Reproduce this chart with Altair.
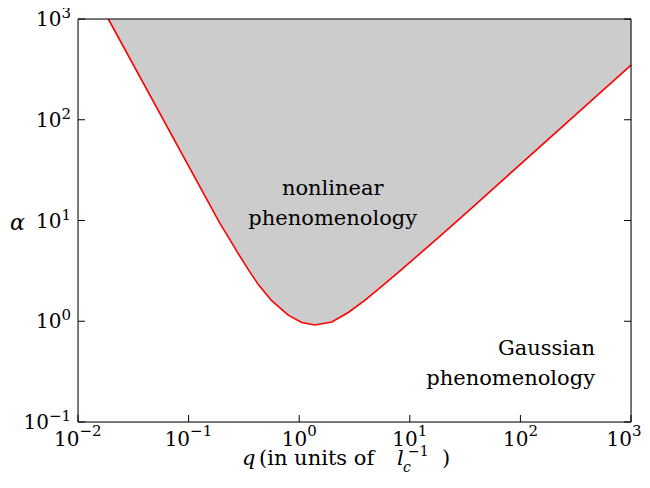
import altair as alt
import pandas as pd

# ---- data ----
q_vals = [0.0188, 0.192, 0.229, 0.281, 0.347, 0.427, 0.564, 0.796, 1.054, 1.39,
          1.97, 2.78, 3.94, 5.57, 7.87, 11.9, 18.1, 27.5, 37.5, 1000]
alpha_vals = [1000, 9.38, 6.85, 4.70, 3.25, 2.31, 1.60, 1.148, 0.973, 0.918,
              0.982, 1.222, 1.622, 2.213, 3.048, 4.529, 6.761, 10.14, 13.74, 349]

x_ticks = [0.01, 0.1, 1, 10, 100, 1000]
x_tick_exps = ["\u22122", "\u22121", "0", "1", "2", "3"]
y_ticks = [0.1, 1, 10, 100, 1000]
y_tick_exps = ["\u22121", "0", "1", "2", "3"]

center_text = ["nonlinear", "phenomenology"]
center_q = [2.01, 2.01]
center_alpha = [17.9, 9.0]

right_text = ["Gaussian", "phenomenology"]
right_q = [473, 473]
right_alpha = [0.462, 0.233]

W, H = 553, 403
FONT = "DejaVu Serif"

curve = pd.DataFrame({"q": q_vals, "alpha": alpha_vals})
xt = pd.DataFrame({"v": x_ticks, "e": x_tick_exps})
yt = pd.DataFrame({"v": y_ticks, "e": y_tick_exps})
cdf = pd.DataFrame({"t": center_text, "q": center_q, "a": center_alpha})
rdf = pd.DataFrame({"t": right_text, "q": right_q, "a": right_alpha})

NEG = "indexof(datum.e, '\u2212') == 0"
POS = "indexof(datum.e, '\u2212') < 0 && datum.v < 999"
LAST = "datum.v > 999"
POS_Y = "indexof(datum.e, '\u2212') < 0"

xs = alt.Scale(type="log", domain=[0.01, 1000])
ys = alt.Scale(type="log", domain=[0.1, 1000])

# identical axis definitions on every layer (labels are drawn as text marks)
x_axis = alt.Axis(values=x_ticks, labels=False, title="", domain=False, ticks=False,
                  grid=False)
y_axis = alt.Axis(values=y_ticks, labels=False, title="\u03b1", titleAngle=0, titleX=-61,
                  titleY=203, titleAlign="center", titleBaseline="middle",
                  titleFontStyle="italic", titleFontSize=22, titleFontWeight="normal",
                  titleColor="black", titleFont=FONT, domain=False, ticks=False, grid=False)


def X(f):
    return alt.X(f, scale=xs, axis=x_axis)


def Y(f):
    return alt.Y(f, scale=ys, axis=y_axis)


def XD(v):
    return alt.XDatum(v, type="quantitative", scale=xs, axis=x_axis)


def YD(v):
    return alt.YDatum(v, type="quantitative", scale=ys, axis=y_axis)


# gray region above the curve
area = alt.Chart(curve).mark_area(color="#cccccc", opacity=1).encode(
    x=X("q:Q"), y=Y("alpha:Q"), y2=alt.datum(1000))
line = alt.Chart(curve).mark_line(color="#ff0000", strokeWidth=1.6).encode(
    x=X("q:Q"), y=Y("alpha:Q"))

# ticks (inward)
bt = alt.Chart(xt).mark_rule(color="black", strokeWidth=1).encode(
    x=X("v:Q"), y=alt.value(H), y2=alt.value(H - 7))
lt = alt.Chart(yt).mark_rule(color="black", strokeWidth=1).encode(
    y=Y("v:Q"), x=alt.value(0), x2=alt.value(7))
rt = alt.Chart(yt).mark_rule(color="black", strokeWidth=1).encode(
    y=Y("v:Q"), x=alt.value(W - 7), x2=alt.value(W))

# frame
one = alt.Data(values=[{}])
frame_top = alt.Chart(one).mark_rule(color="black", strokeWidth=1).encode(
    y=YD(1000), x=XD(0.01), x2=alt.datum(1000))
frame_bot = alt.Chart(one).mark_rule(color="black", strokeWidth=1).encode(
    y=YD(0.1), x=XD(0.01), x2=alt.datum(1000))
frame_left = alt.Chart(one).mark_rule(color="black", strokeWidth=1).encode(
    x=XD(0.01), y=YD(0.1), y2=alt.datum(1000))
frame_right = alt.Chart(one).mark_rule(color="black", strokeWidth=1).encode(
    x=XD(1000), y=YD(0.1), y2=alt.datum(1000))

# tick labels: "10" with a raised exponent
BASE, SUPS = 20, 15


def xlab(cond, dx):
    ten = alt.Chart(xt).transform_filter(cond).mark_text(
        text="10", font=FONT, fontSize=BASE, align="right", baseline="alphabetic",
        dx=dx, color="black").encode(x=X("v:Q"), y=alt.value(H + 24))
    ex = alt.Chart(xt).transform_filter(cond).mark_text(
        font=FONT, fontSize=SUPS, align="left", baseline="alphabetic",
        dx=dx, color="black").encode(x=X("v:Q"), y=alt.value(H + 14), text="e:N")
    return [ten, ex]


def ylab_ten(cond, dx):
    return alt.Chart(yt).transform_filter(cond).mark_text(
        text="10", font=FONT, fontSize=BASE, align="right", baseline="alphabetic",
        dx=dx, dy=7, color="black").encode(y=Y("v:Q"), x=alt.value(-7))


ylab_exp = alt.Chart(yt).mark_text(font=FONT, fontSize=SUPS, align="right",
                                   baseline="alphabetic", dy=-1, color="black").encode(
    y=Y("v:Q"), x=alt.value(-7), text="e:N")

tick_labels = (xlab(NEG, 1.5) + xlab(POS, 8) + xlab(LAST, 1)
               + [ylab_ten(NEG, -22), ylab_ten(POS_Y, -9.5), ylab_exp])

ctext = alt.Chart(cdf).mark_text(font=FONT, fontSize=21, align="center",
                                 baseline="alphabetic", color="black").encode(
    x=X("q:Q"), y=Y("a:Q"), text="t:N")
rtext = alt.Chart(rdf).mark_text(font=FONT, fontSize=21, align="right",
                                 baseline="alphabetic", color="black").encode(
    x=X("q:Q"), y=Y("a:Q"), text="t:N")


def piece(txt, x, y, size=21, style="normal"):
    return alt.Chart(one).mark_text(
        text=txt, font=FONT, fontSize=size, fontStyle=style, align="left",
        baseline="alphabetic", color="black").encode(x=alt.value(x), y=alt.value(y))


title_parts = [
    piece("q", 164, 446, 21, "italic"),
    piece("(in units of", 181, 446),
    piece("l", 319, 446, 21, "italic"),
    piece("c", 325, 453, 14, "italic"),
    piece("\u22121", 330, 437, 14),
    piece(")", 364, 446),
]

chart = alt.layer(
    area, bt, lt, rt, line, frame_top, frame_bot, frame_left, frame_right,
    ctext, rtext, *tick_labels, *title_parts
).properties(
    width=W, height=H,
    autosize=alt.AutoSizeParams(type="none"),
    padding={"left": 70, "top": 11, "right": 11, "bottom": 58},
).configure_view(stroke=None).configure(font=FONT, background="white")

chart.save("out.html", embed_options={"renderer": "svg", "actions": False})
